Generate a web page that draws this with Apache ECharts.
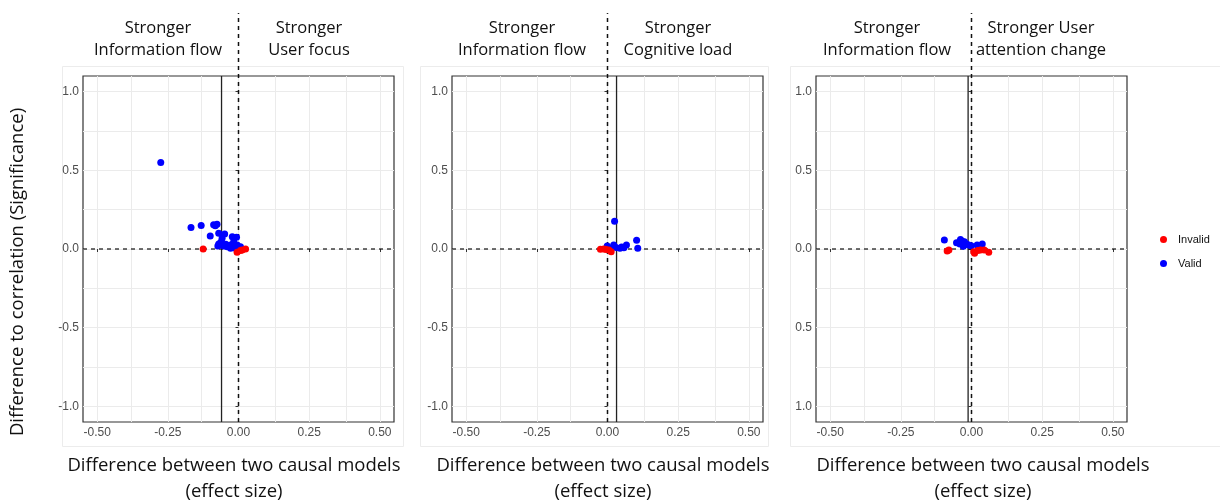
<!DOCTYPE html>
<html><head><meta charset="utf-8">
<script src="https://cdn.jsdelivr.net/npm/echarts@6/dist/echarts.min.js"></script>
<style>html,body{margin:0;padding:0;background:#fff}#c{width:1220px;height:504px}</style>
</head><body><div id="c"></div>
<script>
// ---- data ----
const xTicks = [-0.5, -0.25, 0, 0.25, 0.5];
const yTicks = [-1, -0.5, 0, 0.5, 1];
const xMinor = [-0.375, -0.125, 0.125, 0.375];
const yMinor = [-0.75, -0.25, 0.25, 0.75];

const p1Valid = [[-0.275,0.55],[-0.168,0.137],[-0.132,0.15],[-0.088,0.154],[-0.076,0.158],[-0.082,0.148],
  [-0.10,0.082],[-0.07,0.10],[-0.049,0.095],[-0.058,0.068],[-0.07,0.032],[-0.073,0.019],[-0.052,0.019],
  [-0.022,0.078],[-0.007,0.074],[-0.017,0.046],[-0.028,0.025],[-0.04,0.015],[-0.028,0.004],[-0.005,0.025],
  [0.007,0.015],[-0.011,0.004],[-0.02,0.03],[-0.062,0.045],[-0.045,0.03]];
const p1Invalid = [[-0.125,0.0],[-0.005,-0.02],[0.013,-0.006],[0.025,0.0],[0.007,-0.01]];
const p1Mean = -0.06;

const p2Valid = [[0.025,0.177],[0.103,0.055],[0.107,0.004],[0.067,0.025],[0.058,0.008],[0.044,0.004],
  [0.022,0.025],[-0.001,0.019],[0.03,0.01],[0.01,0.005],[0.05,0.012]];
const p2Invalid = [[-0.025,-0.002],[-0.013,0.0],[0.005,-0.006],[0.013,-0.017],[-0.005,-0.003]];
const p2Mean = 0.032;

const p3Valid = [[-0.096,0.057],[-0.053,0.04],[-0.039,0.061],[-0.033,0.05],[-0.025,0.046],[-0.041,0.032],
  [-0.018,0.032],[-0.01,0.025],[-0.001,0.021],[0.02,0.025],[0.038,0.032],[0.026,0.015],[-0.029,0.018]];
const p3Invalid = [[-0.08,-0.006],[-0.086,-0.013],[0.008,-0.017],[0.011,-0.027],[0.032,-0.006],
  [0.022,-0.01],[0.061,-0.021],[0.045,-0.006]];
const p3Mean = -0.012;

const leftLabels = ["Stronger\nInformation flow", "Stronger\nInformation flow", "Stronger\nInformation flow"];
const rightLabels = ["Stronger\nUser focus", "Stronger\nCognitive load", "Stronger User\nattention change"];
const xTitle = "Difference between two causal models\n(effect size)";
const yTitle = "Difference to correlation (Significance)";

const panels = [
  {valid: p1Valid, invalid: p1Invalid, mean: p1Mean, left: 83, negY: true},
  {valid: p2Valid, invalid: p2Invalid, mean: p2Mean, left: 452, negY: true},
  {valid: p3Valid, invalid: p3Invalid, mean: p3Mean, left: 816, negY: false}
];
const GW = 311, GT = 76, GH = 346;
const XMIN = -0.55, XMAX = 0.55, YMIN = -1.1, YMAX = 1.1;

const chart = echarts.init(document.getElementById('c'), null, {renderer: 'canvas'});
const grids = [], xAxes = [], yAxes = [], series = [];
const font = "'Liberation Sans', Arial, sans-serif";
const titleFont = "'Open Sans', 'Noto Sans', sans-serif";

panels.forEach((p, i) => {
  grids.push({left: p.left, top: GT, width: GW, height: GH, show: true, borderColor: '#333', borderWidth: 1.2, backgroundColor: 'transparent'});
  xAxes.push({type: 'value', gridIndex: i, min: XMIN, max: XMAX,
    axisLine: {show: false}, splitLine: {show: false},
    axisTick: {show: true, length: 3, lineStyle: {color: '#333'}, customValues: xTicks},
    axisLabel: {customValues: xTicks, color: '#4d4d4d', fontSize: 12, fontFamily: font, margin: 5,
      formatter: v => v.toFixed(2)}});
  yAxes.push({type: 'value', gridIndex: i, min: YMIN, max: YMAX,
    axisLine: {show: false}, splitLine: {show: false},
    axisTick: {show: true, length: 3, lineStyle: {color: '#333'}, customValues: yTicks},
    axisLabel: {customValues: yTicks, color: '#4d4d4d', fontSize: 12, fontFamily: font, margin: 4,
      formatter: v => p.negY ? v.toFixed(1) : Math.abs(v).toFixed(1)}});
  // grid lines
  series.push({type: 'line', xAxisIndex: i, yAxisIndex: i, data: [], z: 0, silent: true,
    markLine: {silent: true, z: 0, symbol: 'none', label: {show: false}, animation: false,
      emphasis: {disabled: true},
      lineStyle: {color: '#ebebeb', width: 1, type: 'solid'},
      data: xTicks.concat(xMinor).map(v => ({xAxis: v})).concat(yTicks.concat(yMinor).map(v => ({yAxis: v})))}});
  // mean solid vertical line
  series.push({type: 'line', xAxisIndex: i, yAxisIndex: i, data: [[p.mean, YMIN], [p.mean, YMAX]], z: 2, silent: true,
    symbol: 'none', lineStyle: {color: '#222', width: 1.3}, animation: false});
  // dashed zero lines
  series.push({type: 'line', xAxisIndex: i, yAxisIndex: i, data: [[XMIN, 0], [XMAX, 0]], z: 2, silent: true,
    symbol: 'none', lineStyle: {color: '#111', width: 1.2, type: [4, 4]}, animation: false});
  series.push({type: 'line', xAxisIndex: i, yAxisIndex: i, data: [[0, YMIN], [0, 1.5]], z: 2, silent: true, clip: false,
    symbol: 'none', lineStyle: {color: '#111', width: 1.5, type: [4, 4]}, animation: false});
  series.push({name: 'Valid', type: 'scatter', xAxisIndex: i, yAxisIndex: i, data: p.valid, symbolSize: 7,
    itemStyle: {color: '#0000ff', opacity: 1}, z: 3, animation: false});
  series.push({name: 'Invalid', type: 'scatter', xAxisIndex: i, yAxisIndex: i, data: p.invalid, symbolSize: 7,
    itemStyle: {color: '#ff0000', opacity: 1}, z: 4, animation: false});
});

const graphics = [
  {type: 'rect', shape: {x: 62.5, y: 66.5, width: 341, height: 380}, style: {fill: null, stroke: '#ececec', lineWidth: 1}, z: -10},
  {type: 'rect', shape: {x: 420.5, y: 66.5, width: 348, height: 380}, style: {fill: null, stroke: '#ececec', lineWidth: 1}, z: -10},
  {type: 'rect', shape: {x: 790.5, y: 66.5, width: 440, height: 380}, style: {fill: null, stroke: '#ececec', lineWidth: 1}, z: -10},
  {type: 'text', rotation: Math.PI / 2, x: 18, y: 272, style: {text: yTitle, font: "18.5px " + titleFont, fill: '#111', align: 'center', verticalAlign: 'middle'}}
];
const leftCenters = [158, 522, 887];
const rightCenters = [309, 678, 1041];
const xTitleCenters = [234, 603, 983];
for (let i = 0; i < 3; i++) {
  graphics.push({type: 'text', x: leftCenters[i], y: 39, style: {text: leftLabels[i], font: "16.5px " + titleFont, fill: '#111', align: 'center', verticalAlign: 'middle', lineHeight: 22}});
  graphics.push({type: 'text', x: rightCenters[i], y: 39, style: {text: rightLabels[i], font: "16.5px " + titleFont, fill: '#111', align: 'center', verticalAlign: 'middle', lineHeight: 22}});
  graphics.push({type: 'text', x: xTitleCenters[i], y: 479, style: {text: xTitle, font: "18.5px " + titleFont, fill: '#111', align: 'center', verticalAlign: 'middle', lineHeight: 26}});
}

chart.setOption({
  backgroundColor: '#fff',
  animation: false,
  legend: {data: ['Invalid', 'Valid'], orient: 'vertical', left: 1155, top: 229, icon: 'circle',
    itemWidth: 7, itemHeight: 7, itemGap: 13,
    textStyle: {fontSize: 11, fontFamily: font, color: '#111', padding: [0, 0, 0, 6]}},
  grid: grids, xAxis: xAxes, yAxis: yAxes, series: series, graphic: graphics
});
</script></body></html>
